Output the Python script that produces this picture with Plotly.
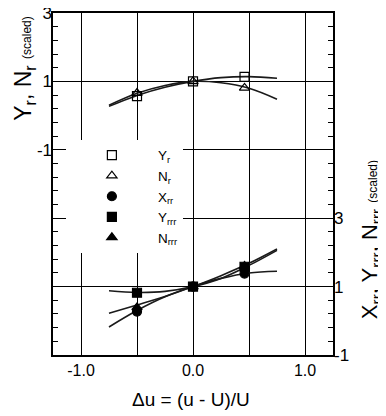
import plotly.graph_objects as go

# ---- data ----
x_pts = [-0.5, 0.0, 0.46]
yr_pts = [0.57, 1.0, 1.13]
nr_pts = [0.66, 1.0, 0.81]
xrr_pts = [0.27, 1.0, 1.38]
yrrr_pts = [0.82, 1.0, 1.58]
nrrr_pts = [0.39, 1.0, 1.60]

x_fit = [-0.75, -0.5, -0.25, 0.0, 0.25, 0.5, 0.75]
yr_fit = [0.27, 0.59, 0.83, 1.0, 1.11, 1.14, 1.09]
nr_fit = [0.30, 0.65, 0.88, 1.0, 0.96, 0.80, 0.48]
xrr_fit = [-0.18, 0.30, 0.70, 1.0, 1.24, 1.40, 1.45]
yrrr_fit = [0.88, 0.83, 0.86, 1.0, 1.24, 1.62, 2.06]
nrrr_fit = [0.22, 0.46, 0.71, 1.0, 1.32, 1.68, 2.10]

x_ticks = [-1.0, 0.0, 1.0]
x_ticktext = ["-1.0", "0.0", "1.0"]
top_ticks = [3, 1, -1]
top_ticktext = ["3", "1", "-1"]
bot_ticks = [3, 1, -1]
bot_ticktext = ["3", "1", "-1"]

FONT = "Liberation Sans, Arial, sans-serif"
LINE = "#1a1a1a"

fig = go.Figure()

# fitted curves (no legend): top pair on y, bottom three on y3
for yv, ax in [(yr_fit, "y"), (nr_fit, "y"), (xrr_fit, "y3"), (yrrr_fit, "y3"), (nrrr_fit, "y3")]:
    fig.add_trace(go.Scatter(x=x_fit, y=yv, yaxis=ax, mode="lines",
                             line=dict(color=LINE, width=1.6, shape="spline"),
                             showlegend=False, hoverinfo="skip"))

# markers
markers = [
    ("Y<sub>r</sub>", yr_pts, "y2", "square-open", 9),
    ("N<sub>r</sub>", nr_pts, "y2", "triangle-up-open", 9),
    ("X<sub>rr</sub>", xrr_pts, "y3", "circle", 9),
    ("Y<sub>rrr</sub>", yrrr_pts, "y3", "square", 9),
    ("N<sub>rrr</sub>", nrrr_pts, "y3", "triangle-up", 9),
]
for name, yv, ax, sym, sz in markers:
    fig.add_trace(go.Scatter(x=x_pts, y=yv, yaxis=ax, mode="markers", name=name,
                             marker=dict(symbol=sym, size=sz, color="black",
                                         line=dict(color="black", width=1.2))))

fig.update_layout(
    width=378, height=408,
    margin=dict(l=45, r=53, t=5, b=61),
    paper_bgcolor="white", plot_bgcolor="white",
    font=dict(family=FONT, color="black", size=16),
    xaxis=dict(range=[-1.25, 1.25], tickmode="array", tickvals=x_ticks, ticktext=x_ticktext,
               showgrid=True, gridcolor="black", gridwidth=1.3, zeroline=False,
               showline=True, linecolor="black", linewidth=1.6, mirror=True,
               ticks="", tickfont=dict(size=16), automargin=False,
               minor=dict(tickmode="linear", tick0=0, dtick=0.5, showgrid=True,
                          gridcolor="black", gridwidth=1.3)),
    # frame + small inside ticks on both sides
    yaxis=dict(range=[-7, 3], tickmode="linear", tick0=3, dtick=0.4,
               ticks="inside", ticklen=5, tickwidth=1.3, tickcolor="black",
               showticklabels=False, showgrid=False, zeroline=False,
               showline=True, linecolor="black", linewidth=1.6, mirror="allticks",
               automargin=False),
    # left scale labels + grid
    yaxis2=dict(range=[-7, 3], overlaying="y", side="left", anchor="x",
                tickmode="array", tickvals=top_ticks, ticktext=top_ticktext,
                showgrid=True, gridcolor="black", gridwidth=1.3, zeroline=False,
                showline=False, ticks="", tickfont=dict(size=17), automargin=False,
                ticklabeloverflow="allow"),
    # right scale labels + grid
    yaxis3=dict(range=[-1, 9], overlaying="y", side="right", anchor="x",
                tickmode="array", tickvals=bot_ticks, ticktext=bot_ticktext,
                showgrid=True, gridcolor="black", gridwidth=1.3, zeroline=False,
                showline=False, ticks="", tickfont=dict(size=17), automargin=False,
                ticklabeloverflow="allow"),
    legend=dict(x=0.046, y=0.629, xanchor="left", yanchor="top",
                bgcolor="white", borderwidth=0, itemwidth=82,
                font=dict(size=13.5, family=FONT), tracegroupgap=0),
    showlegend=True,
)

fig.add_annotation(xref="paper", yref="paper", x=-0.100, y=0.837, textangle=-90,
                   text="Y<sub>r</sub>, N<sub>r</sub> <span style='font-size:12px'>(scaled)</span>",
                   showarrow=False, font=dict(size=23, family=FONT),
                   xanchor="center", yanchor="middle")
fig.add_annotation(xref="paper", yref="paper", x=1.136, y=0.336, textangle=-90,
                   text="X<sub>rr</sub>, Y<sub>rrr</sub>, N<sub>rrr</sub> <span style='font-size:12px'>(scaled)</span>",
                   showarrow=False, font=dict(size=22, family=FONT),
                   xanchor="center", yanchor="middle")
fig.add_annotation(xref="paper", yref="paper", x=0.493, y=-0.129,
                   text="\u0394u = (u - U)/U", showarrow=False,
                   font=dict(size=19, family=FONT), xanchor="center", yanchor="middle")

fig.write_html("out.html")
